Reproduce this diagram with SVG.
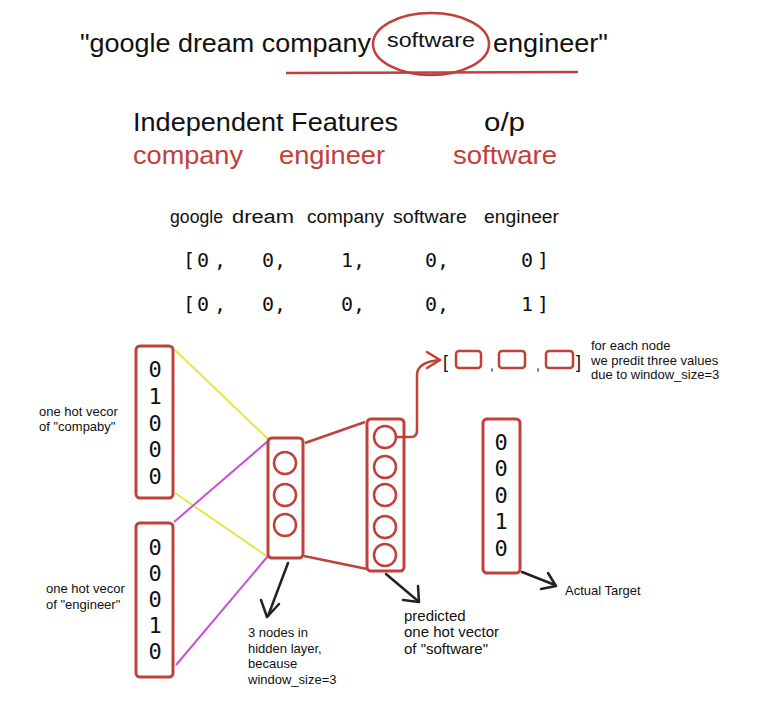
<svg xmlns="http://www.w3.org/2000/svg" width="774" height="711" viewBox="0 0 774 711">
<defs>
<style>
.t{font-family:"Liberation Sans",Arial,sans-serif;fill:#111}
.r{fill:#c0403a}
.m{font-family:"DejaVu Sans Mono","Liberation Mono",monospace;fill:#111}
.box{fill:none;stroke:#c0403a;stroke-width:3}
.nd{fill:none;stroke:#c0403a;stroke-width:2.5}
.ar{fill:none;stroke:#222;stroke-width:2.5;stroke-linecap:round;stroke-linejoin:round}
</style>
</defs>
<rect width="774" height="711" fill="#fff"/>
<g id="title">
<text class="t" x="80" y="52" font-size="26" textLength="291" lengthAdjust="spacingAndGlyphs">"google dream company</text>
<ellipse cx="431" cy="44" rx="58" ry="31" fill="none" stroke="#c0403a" stroke-width="2.5"/>
<text class="t" x="387" y="47" font-size="20" textLength="88" lengthAdjust="spacingAndGlyphs">software</text>
<text class="t" x="493" y="52" font-size="26" textLength="115" lengthAdjust="spacingAndGlyphs">engineer"</text>
<line x1="286" y1="73" x2="578" y2="72" stroke="#c0403a" stroke-width="2.5"/>
</g>
<g id="features">
<text class="t" x="133" y="131" font-size="25" textLength="265" lengthAdjust="spacingAndGlyphs">Independent Features</text>
<text class="t" x="484" y="131" font-size="25" textLength="41" lengthAdjust="spacingAndGlyphs">o/p</text>
<text class="t r" x="133" y="164" font-size="25" textLength="110" lengthAdjust="spacingAndGlyphs">company</text>
<text class="t r" x="279" y="164" font-size="25" textLength="106" lengthAdjust="spacingAndGlyphs">engineer</text>
<text class="t r" x="453" y="164" font-size="25" textLength="104" lengthAdjust="spacingAndGlyphs">software</text>
</g>
<g id="table">
<g class="t" font-size="18">
<text x="170" y="223" textLength="53" lengthAdjust="spacingAndGlyphs">google</text>
<text x="232" y="223" textLength="62" lengthAdjust="spacingAndGlyphs">dream</text>
<text x="307" y="223" textLength="77" lengthAdjust="spacingAndGlyphs">company</text>
<text x="393" y="223" textLength="74" lengthAdjust="spacingAndGlyphs">software</text>
<text x="484" y="223" textLength="75" lengthAdjust="spacingAndGlyphs">engineer</text>
</g>
<g class="m" font-size="20">
<text x="183" y="267">[</text><text x="197" y="267">0</text><text x="214" y="267">,</text>
<text x="262" y="267">0,</text>
<text x="341" y="267">1,</text>
<text x="425" y="267">0,</text>
<text x="521" y="267">0</text><text x="537" y="267">]</text>
<text x="183" y="311">[</text><text x="197" y="311">0</text><text x="214" y="311">,</text>
<text x="262" y="311">0,</text>
<text x="341" y="311">0,</text>
<text x="425" y="311">0,</text>
<text x="521" y="311">1</text><text x="537" y="311">]</text>
</g>
</g>
<g id="connectors">
<line x1="175" y1="350" x2="268" y2="439" stroke="#e6e64a" stroke-width="2"/>
<line x1="175" y1="493" x2="268" y2="557" stroke="#e6e64a" stroke-width="2"/>
<line x1="174" y1="522" x2="268" y2="441" stroke="#c84fd8" stroke-width="2"/>
<line x1="176" y1="665" x2="268" y2="556" stroke="#c84fd8" stroke-width="2"/>
<line x1="305" y1="443" x2="365" y2="422" stroke="#c0403a" stroke-width="2.5"/>
<line x1="304" y1="556" x2="367" y2="569" stroke="#c0403a" stroke-width="2.5"/>
<path d="M396 437 L411 437 Q417 437 417 430 L417 375 Q417 362 440 360" fill="none" stroke="#c0403a" stroke-width="2.5" stroke-linecap="round"/>
<path d="M427 352 L440 360 L427 368" fill="none" stroke="#c0403a" stroke-width="2.5" stroke-linecap="round" stroke-linejoin="round"/>
<path class="ar" d="M288 563 L268 616"/>
<path class="ar" d="M261 600 L267 617 L279 604"/>
<path class="ar" d="M386 574 L418 601"/>
<path class="ar" d="M403 600 L419 602 L418 586"/>
<path class="ar" d="M522 572 L555 585"/>
<path class="ar" d="M541 589 L556 586 L548 573"/>
</g>
<g id="input1">
<rect class="box" x="136" y="346" width="37" height="152" rx="4"/>
<g class="m" font-size="22" text-anchor="middle">
<text x="155" y="377">0</text><text x="155" y="404">1</text><text x="155" y="431">0</text><text x="155" y="457">0</text><text x="155" y="484">0</text>
</g>
<text class="t" x="39" y="416" font-size="13">one hot vecor</text>
<text class="t" x="39" y="431" font-size="13">of "compaby"</text>
</g>
<g id="input2">
<rect class="box" x="136" y="523" width="37" height="154" rx="4"/>
<g class="m" font-size="22" text-anchor="middle">
<text x="155" y="555">0</text><text x="155" y="581">0</text><text x="155" y="607">0</text><text x="155" y="633">1</text><text x="155" y="659">0</text>
</g>
<text class="t" x="46" y="593" font-size="13">one hot vecor</text>
<text class="t" x="46" y="609" font-size="13">of "engineer"</text>
</g>
<g id="hidden">
<rect class="box" x="268" y="438" width="35" height="120" rx="4"/>
<circle class="nd" cx="285" cy="463" r="11"/>
<circle class="nd" cx="285" cy="495" r="11"/>
<circle class="nd" cx="285" cy="525" r="11"/>
<text class="t" x="248" y="637" font-size="13">3 nodes in</text>
<text class="t" x="248" y="653" font-size="13">hidden layer,</text>
<text class="t" x="248" y="668" font-size="13">because</text>
<text class="t" x="248" y="684" font-size="13">window_size=3</text>
</g>
<g id="output">
<rect class="box" x="367" y="419" width="37" height="152" rx="4"/>
<circle class="nd" cx="385" cy="437" r="11"/>
<circle class="nd" cx="385" cy="467" r="11"/>
<circle class="nd" cx="385" cy="495" r="11"/>
<circle class="nd" cx="385" cy="527" r="11"/>
<circle class="nd" cx="385" cy="555" r="11"/>
<text class="t" x="404" y="621" font-size="15">predicted</text>
<text class="t" x="404" y="637" font-size="15">one hot vector</text>
<text class="t" x="404" y="654" font-size="15">of "software"</text>
</g>
<g id="windows">
<text class="t" x="443" y="368" font-size="18">[</text>
<rect class="nd" x="456" y="351" width="25" height="17" rx="3"/>
<text class="t" x="490" y="370" font-size="14">,</text>
<rect class="nd" x="499" y="351" width="26" height="17" rx="3"/>
<text class="t" x="536" y="370" font-size="14">,</text>
<rect class="nd" x="546" y="351" width="27" height="17" rx="3"/>
<text class="t" x="576" y="368" font-size="18">]</text>
<text class="t" x="591" y="350" font-size="13">for each node</text>
<text class="t" x="591" y="365" font-size="13">we predit three values</text>
<text class="t" x="591" y="379" font-size="13">due to window_size=3</text>
</g>
<g id="target">
<rect class="box" x="483" y="419" width="37" height="154" rx="4"/>
<g class="m" font-size="22" text-anchor="middle">
<text x="501" y="450">0</text><text x="501" y="476">0</text><text x="501" y="503">0</text><text x="501" y="529">1</text><text x="501" y="556">0</text>
</g>
<text class="t" x="565" y="595" font-size="13">Actual Target</text>
</g>
</svg>
